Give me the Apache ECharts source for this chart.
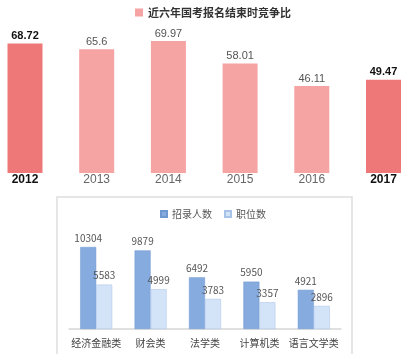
<!DOCTYPE html>
<html><head><meta charset="utf-8">
<script src="https://cdn.jsdelivr.net/npm/echarts@6/dist/echarts.min.js"></script>
<style>html,body{margin:0;padding:0;background:#fff}#c{width:406px;height:354px}</style>
</head><body><div id="c"></div>
<script>
const years = ['2012','2013','2014','2015','2016','2017'];
const ratios = [68.72, 65.6, 69.97, 58.01, 46.11, 49.47];
const highlight = [true, false, false, false, false, true];
const majors = ['经济金融类','财会类','法学类','计算机类','语言文学类'];
const recruits = [10304, 9879, 6492, 5950, 4921];
const positions = [5583, 4999, 3783, 3357, 2896];

const dark = '#ee7878', light = '#f5a3a3';
const chart = echarts.init(document.getElementById('c'));
const font = '"Noto Sans CJK SC", "Liberation Sans", sans-serif';
chart.setOption({
  animation: false,
  textStyle: {fontFamily: font},
  graphic: [{type:'rect', shape:{x:57, y:197, width:295, height:170}, style:{fill:'none', stroke:'#dedede', lineWidth:1.5}, z:-1}],
  legend: [
    {data:['近六年国考报名结束时竞争比'], top:2, left:130, itemWidth:8, itemHeight:8, itemGap:6,
     textStyle:{fontSize:11, color:'#333', fontWeight:'bold', fontFamily:font}, icon:'rect'},
    {data:['招录人数','职位数'], top:204, left:155, itemWidth:6, itemHeight:6, itemGap:12,
     textStyle:{fontSize:10, color:'#555', fontFamily:font}, icon:'rect'}
  ],
  grid: [
    {left:25, right:22.5, top:41, bottom:181},
    {left:69, right:65, top:233.5, bottom:25}
  ],
  xAxis: [
    {type:'category', gridIndex:0, boundaryGap:false, data:years.map((y,i)=>({value:y, textStyle: highlight[i]?{color:'#111', fontWeight:'bold'}:{color:'#666'}})),
     axisLine:{show:false}, axisTick:{show:false}, axisLabel:{fontSize:12, margin:1, interval:0, fontFamily:'"Liberation Sans", sans-serif'}},
    {type:'category', gridIndex:1, data:majors, axisLine:{lineStyle:{color:'#d6d6d6', width:1.5}}, axisTick:{show:false},
     axisLabel:{fontSize:10, color:'#444', margin:9, interval:0}}
  ],
  yAxis: [
    {type:'value', gridIndex:0, min:0, max:70, show:false},
    {type:'value', gridIndex:1, min:0, max:12000, show:false}
  ],
  series: [
    {name:'近六年国考报名结束时竞争比', type:'bar', xAxisIndex:0, yAxisIndex:0, barWidth:35, clip:false, itemStyle:{color:light},
     data: ratios.map((v,i)=>({value:v, itemStyle:{color: highlight[i]?dark:light},
       label:{color: highlight[i]?'#111':'#555', fontWeight: highlight[i]?'bold':'normal'}})),
     label:{show:true, position:'top', distance:2, fontSize:11, fontFamily:'"Liberation Sans", sans-serif'}},
    {name:'招录人数', type:'bar', xAxisIndex:1, yAxisIndex:1, barWidth:16, barGap:'0%', data:recruits,
     itemStyle:{color:'#86abdf', borderColor:'#6f97d0', borderWidth:0.5},
     label:{show:true, position:'top', distance:4, fontSize:10, color:'#555'}},
    {name:'职位数', type:'bar', xAxisIndex:1, yAxisIndex:1, barWidth:16, barGap:'0%', data:positions,
     itemStyle:{color:'#d3e3f8', borderColor:'#a8c3e8', borderWidth:0.5},
     label:{show:true, position:'top', distance:4, fontSize:10, color:'#555'}}
  ]
});
</script></body></html>
